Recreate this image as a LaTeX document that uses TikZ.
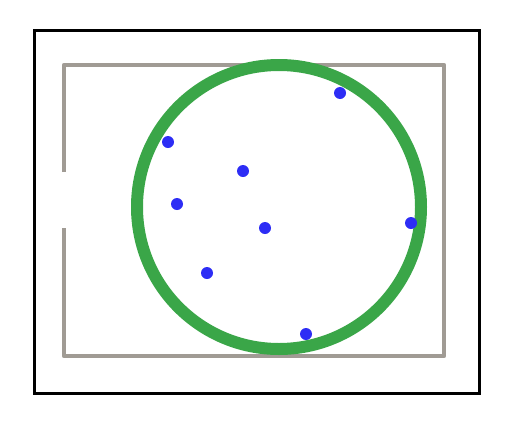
\documentclass[tikz,border=0pt]{standalone}
\usepackage{tikz}
\usetikzlibrary{positioning}

\definecolor{pitchgray}{RGB}{160,155,148}
\definecolor{ringgreen}{RGB}{58,166,72}
\definecolor{dotblue}{RGB}{45,45,245}

\begin{document}
\begin{tikzpicture}[x=1pt, y=-1pt,
    frame/.style={draw=black, line width=3pt},
    pitch/.style={draw=pitchgray, line width=4.5pt, line join=round},
    ring/.style={draw=ringgreen, line width=12pt},
    dot/.style={circle, fill=dotblue, inner sep=0pt, minimum size=12pt}]
    \useasboundingbox (0,0) rectangle (509,426);
    \draw [frame] (34,30) rectangle (479,393);
    \draw [pitch] (64,172) -- (64,65) -- (444,65) -- (444,356) -- (64,356) -- (64,228);
    \draw [ring] (279,207) circle (142);
    % scattered points
    \foreach \px/\py [count=\i] in {340/93, 168/142, 243/171, 177/204, 265/228, 411/223, 207/273, 306/334}
        \node [dot] (p\i) at (\px,\py) {};
\end{tikzpicture}
\end{document}
